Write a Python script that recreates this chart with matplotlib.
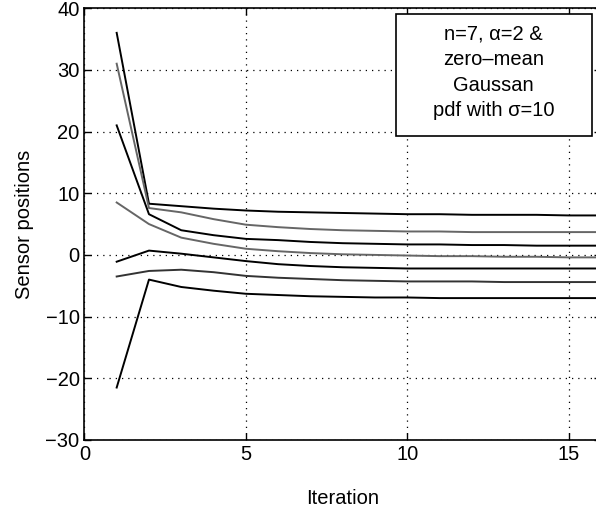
import numpy as np
import matplotlib
matplotlib.use("Agg")
import matplotlib.pyplot as plt
from matplotlib.patches import Rectangle

plt.rcParams['font.family'] = ['Liberation Sans', 'DejaVu Sans']

# iteration index and sensor positions
iterations = np.arange(1, 17)
s1 = [36.0, 8.3, 7.9, 7.5, 7.2, 7.0, 6.9, 6.8, 6.7, 6.6, 6.6, 6.5, 6.5, 6.5, 6.4, 6.4]
s2 = [31.0, 7.6, 6.9, 5.8, 4.9, 4.5, 4.2, 4.0, 3.9, 3.8, 3.8, 3.7, 3.7, 3.7, 3.7, 3.7]
s3 = [21.0, 6.6, 4.0, 3.2, 2.6, 2.4, 2.1, 1.9, 1.8, 1.7, 1.7, 1.6, 1.6, 1.5, 1.5, 1.5]
s4 = [8.5, 5.0, 2.8, 1.8, 1.0, 0.6, 0.3, 0.1, 0.0, -0.1, -0.2, -0.2, -0.3, -0.3, -0.4, -0.4]
s5 = [-1.1, 0.7, 0.2, -0.4, -1.0, -1.5, -1.8, -2.0, -2.1, -2.2, -2.2, -2.2, -2.2, -2.2, -2.2, -2.2]
s6 = [-3.5, -2.6, -2.4, -2.8, -3.4, -3.7, -3.9, -4.1, -4.2, -4.3, -4.3, -4.3, -4.4, -4.4, -4.4, -4.4]
s7 = [-21.5, -4.0, -5.2, -5.8, -6.3, -6.5, -6.7, -6.8, -6.9, -6.9, -7.0, -7.0, -7.0, -7.0, -7.0, -7.0]
series = [s1, s2, s3, s4, s5, s6, s7]
colors = ['black', '#666666', 'black', '#666666', 'black', '#333333', 'black']

xticks = [0, 5, 10, 15]
yticks = [-30, -20, -10, 0, 10, 20, 30, 40]

fig = plt.figure(figsize=(5.96, 5.11), dpi=100)
ax = fig.add_axes([0.1416, 0.139, 0.8668, 0.845])

for s, c in zip(series, colors):
    ax.plot(iterations, s, color=c, lw=1.4, zorder=3)

ax.set_xlim(0, 16)
ax.set_ylim(-30, 40)
ax.set_xticks(xticks)
ax.set_yticks(yticks)
ax.tick_params(direction='in', labelsize=14.5, length=5, width=1, top=True, right=True)
ax.grid(True, color='black', linestyle=(0, (1, 4)), lw=0.9)
for sp in ax.spines.values():
    sp.set_linewidth(1.2)

ax.set_xlabel('Iteration', fontsize=14.5, labelpad=18)
ax.set_ylabel('Sensor positions', fontsize=14.5, labelpad=8)

# annotation box
ax.add_patch(Rectangle((9.65, 19.3), 6.06, 19.8, facecolor='white',
                       edgecolor='black', lw=1.2, zorder=4))
ax.text(12.68, 29.6, 'n=7, \u03b1=2 &\nzero\u2013mean\nGaussan\npdf with \u03c3=10',
        ha='center', va='center', fontsize=14.5, linespacing=1.45, zorder=5)

fig.savefig('out.png', dpi=100)
